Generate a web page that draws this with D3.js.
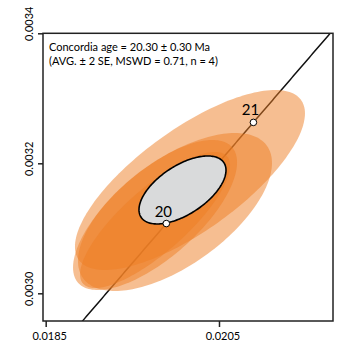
<!DOCTYPE html>
<html><head><meta charset="utf-8">
<script src="https://cdn.jsdelivr.net/npm/d3@7"></script>
<style>body{margin:0;background:#fff;} svg{display:block;}</style>
</head><body>
<script>
// ---- data ----
const ellipseX    = [0.020165, 0.019992, 0.019762, 0.019762];
const ellipseXErr = [0.0013272, 0.0011194, 0.00086555, 0.00094633];
const ellipseY    = [0.0031743, 0.0031251, 0.0031128, 0.0031205];
const ellipseYErr = [0.00013846, 0.00012154, 0.00010462, 0.00011538];
const ellipseRho  = [0.74, 0.62, 0.80, 0.70];
const concX = 0.0200789, concXErr = 0.00050202, concY = 0.0031590, concYErr = 0.0000523, concRho = 0.58;
const ageMarks = [20, 21];
const xTicks = [0.0185, 0.0205];
const yTicks = [0.0030, 0.0032, 0.0034];
const titleLines = ["Concordia age = 20.30 \u00b1 0.30 Ma", "(AVG. \u00b1 2 SE, MSWD = 0.71, n = 4)"];
const L235 = 9.8485e-10, L238 = 1.55125e-10;

const W = 347, H = 347;
const svg = d3.select("body").append("svg").attr("width", W).attr("height", H);
const x = d3.scaleLinear().domain([0.018469, 0.0218157]).range([43, 333]);
const y = d3.scaleLinear().domain([0.0029574, 0.0034]).range([321, 33.3]);

svg.append("clipPath").attr("id", "c").append("rect")
  .attr("x", 43).attr("y", 33.3).attr("width", 290).attr("height", 321 - 33.3);
const g = svg.append("g").attr("clip-path", "url(#c)");

// concordia line
const ages = d3.range(18.5, 22.5, 0.02);
const cx = t => Math.exp(L235 * t * 1e6) - 1, cy = t => Math.exp(L238 * t * 1e6) - 1;
g.append("path").attr("d", d3.line().x(t => x(cx(t))).y(t => y(cy(t)))(ages))
  .attr("fill", "none").attr("stroke", "#111").attr("stroke-width", 1.5);

function ellPath(mx, sx, my, sy, r) {
  const ts = d3.range(0, 2 * Math.PI + 0.001, Math.PI / 90);
  const q = Math.sqrt(1 - r * r);
  return d3.line().x(t => x(mx + sx * Math.cos(t))).y(t => y(my + sy * (r * Math.cos(t) + q * Math.sin(t))))(ts) + "Z";
}
ellipseX.forEach((v, i) => {
  g.append("path").attr("d", ellPath(v, ellipseXErr[i], ellipseY[i], ellipseYErr[i], ellipseRho[i]))
    .attr("fill", "rgb(238,125,35)").attr("fill-opacity", 0.5).attr("stroke", "none");
});
g.append("path").attr("d", ellPath(concX, concXErr, concY, concYErr, concRho))
  .attr("fill", "#d9dadb").attr("stroke", "#000").attr("stroke-width", 1.6);

ageMarks.forEach(t => {
  g.append("circle").attr("cx", x(cx(t))).attr("cy", y(cy(t))).attr("r", 3.3)
    .attr("fill", "#fff").attr("stroke", "#000").attr("stroke-width", 1);
  g.append("text").attr("x", x(cx(t)) - 3).attr("y", y(cy(t)) - 7)
    .attr("text-anchor", "middle").attr("font-family", "Lato, sans-serif").attr("font-size", 15)
    .attr("fill", "#000").text(t);
});

// box
svg.append("rect").attr("x", 43).attr("y", 33.3).attr("width", 290).attr("height", 321 - 33.3)
  .attr("fill", "none").attr("stroke", "#222").attr("stroke-width", 1.5);

// axes
const xa = svg.append("g").attr("transform", "translate(0,321)")
  .call(d3.axisBottom(x).tickValues(xTicks).tickSize(6).tickFormat(d3.format(".4f")));
xa.select(".domain").remove();
xa.selectAll("line").attr("stroke", "#222").attr("stroke-width", 1.5);
xa.selectAll("text").attr("font-family", "Lato, sans-serif").attr("font-size", 11).attr("fill", "#000")
  .attr("dx", 3.5).attr("dy", "0.9em");

const ya = svg.append("g").attr("transform", "translate(43,0)")
  .call(d3.axisLeft(y).tickValues(yTicks).tickSize(5).tickFormat(d3.format(".4f")));
ya.select(".domain").remove();
ya.selectAll("line").attr("stroke", "#222").attr("stroke-width", 1.5);
ya.selectAll("text").attr("font-family", "Lato, sans-serif").attr("font-size", 11).attr("fill", "#000")
  .attr("x", null).attr("dy", null)
  .attr("text-anchor", "middle")
  .attr("transform", d => `translate(-10,${d >= 0.00339 ? -10 : -5}) rotate(-90)`);

titleLines.forEach((s, i) => {
  svg.append("text").attr("x", 49).attr("y", 51 + i * 14)
    .attr("font-family", "Lato, sans-serif").attr("font-size", 11).attr("fill", "#000").text(s);
});
</script>
</body></html>
